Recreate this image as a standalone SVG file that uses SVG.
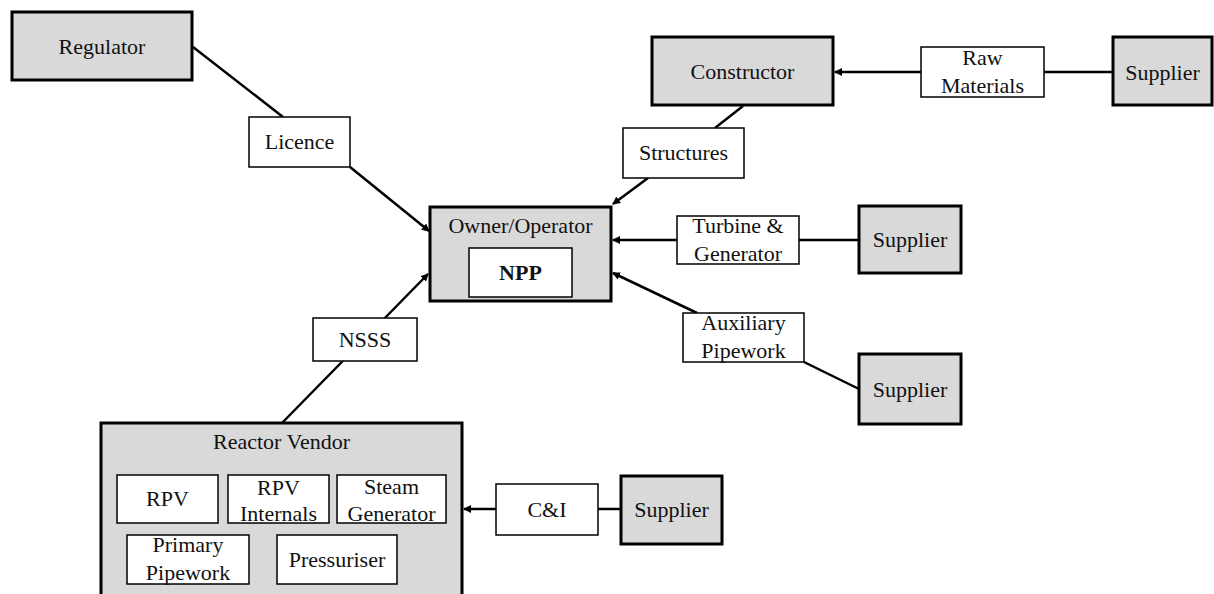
<svg xmlns="http://www.w3.org/2000/svg" width="1214" height="594" viewBox="0 0 1214 594">
<style>
.n{fill:#d9d9d9;stroke:#000;stroke-width:3}
.l{fill:#fff;stroke:#000;stroke-width:1.5}
text{font-family:"Liberation Serif","Times New Roman",serif;font-size:22px;fill:#111;text-anchor:middle}
.c{stroke:#000;stroke-width:2.5;fill:none}
</style>
<defs>
<marker id="ah" markerWidth="8" markerHeight="8" refX="7" refY="4" orient="auto" markerUnits="userSpaceOnUse">
<path d="M0,0 L8,4 L0,8 Z" fill="#000"/>
</marker>
</defs>
<rect width="1214" height="594" fill="#fff"/>
<g id="connectors">
<line class="c" x1="193" y1="47" x2="283" y2="117"/>
<line class="c" x1="350" y1="167" x2="429" y2="231" marker-end="url(#ah)"/>
<line class="c" x1="743" y1="106" x2="715" y2="128"/>
<line class="c" x1="648" y1="178" x2="613" y2="204" marker-end="url(#ah)"/>
<line class="c" x1="921" y1="72" x2="835" y2="72" marker-end="url(#ah)"/>
<line class="c" x1="1044" y1="72" x2="1113" y2="72"/>
<line class="c" x1="677" y1="240" x2="613" y2="240" marker-end="url(#ah)"/>
<line class="c" x1="799" y1="240" x2="859" y2="240"/>
<line class="c" x1="697" y1="313" x2="613" y2="273" marker-end="url(#ah)"/>
<line class="c" x1="804" y1="362" x2="859" y2="389"/>
<line class="c" x1="282" y1="423" x2="428" y2="274" marker-end="url(#ah)"/>
<line class="c" x1="496" y1="509" x2="464" y2="509" marker-end="url(#ah)"/>
<line class="c" x1="598" y1="509" x2="621" y2="509"/>
</g>
<g id="regulator"><rect class="n" x="12" y="12" width="180" height="68"/><text x="102" y="54">Regulator</text></g>
<g id="licence"><rect class="l" x="249" y="117" width="101" height="50"/><text x="299.5" y="149">Licence</text></g>
<g id="constructor"><rect class="n" x="652" y="37" width="181" height="68"/><text x="742.5" y="79">Constructor</text></g>
<g id="raw-materials"><rect class="l" x="921" y="47" width="123" height="50"/><text x="982.5" y="65">Raw</text><text x="982.5" y="93">Materials</text></g>
<g id="supplier-1"><rect class="n" x="1113" y="37" width="99" height="68"/><text x="1162.5" y="80">Supplier</text></g>
<g id="structures"><rect class="l" x="623" y="128" width="121" height="50"/><text x="683.5" y="160">Structures</text></g>
<g id="owner"><rect class="n" x="430" y="207" width="181" height="94"/><text x="520.5" y="233">Owner/Operator</text>
<rect class="l" x="469" y="248" width="103" height="49"/><text x="520.5" y="280" font-weight="bold">NPP</text></g>
<g id="turbine"><rect class="l" x="677" y="216" width="122" height="48"/><text x="738" y="233">Turbine &amp;</text><text x="738" y="261">Generator</text></g>
<g id="supplier-2"><rect class="n" x="859" y="206" width="102" height="67"/><text x="910" y="247">Supplier</text></g>
<g id="auxiliary"><rect class="l" x="683" y="313" width="121" height="49"/><text x="743.5" y="330">Auxiliary</text><text x="743.5" y="358">Pipework</text></g>
<g id="supplier-3"><rect class="n" x="859" y="354" width="102" height="70"/><text x="910" y="397">Supplier</text></g>
<g id="nsss"><rect class="l" x="313" y="318" width="104" height="43"/><text x="365" y="347">NSSS</text></g>
<g id="reactor-vendor"><rect class="n" x="101" y="423" width="361" height="180"/><text x="281.5" y="449">Reactor Vendor</text>
<rect class="l" x="117" y="475" width="101" height="48"/><text x="167.5" y="506">RPV</text>
<rect class="l" x="228" y="475" width="101" height="48"/><text x="278.5" y="495">RPV</text><text x="278.5" y="521">Internals</text>
<rect class="l" x="337" y="475" width="109" height="48"/><text x="391.5" y="494">Steam</text><text x="391.5" y="521">Generator</text>
<rect class="l" x="127" y="535" width="122" height="49"/><text x="188" y="552">Primary</text><text x="188" y="580">Pipework</text>
<rect class="l" x="277" y="535" width="120" height="49"/><text x="337" y="567">Pressuriser</text></g>
<g id="ci"><rect class="l" x="496" y="484" width="102" height="51"/><text x="547" y="517">C&amp;I</text></g>
<g id="supplier-4"><rect class="n" x="621" y="476" width="101" height="68"/><text x="671.5" y="517">Supplier</text></g>
</svg>
